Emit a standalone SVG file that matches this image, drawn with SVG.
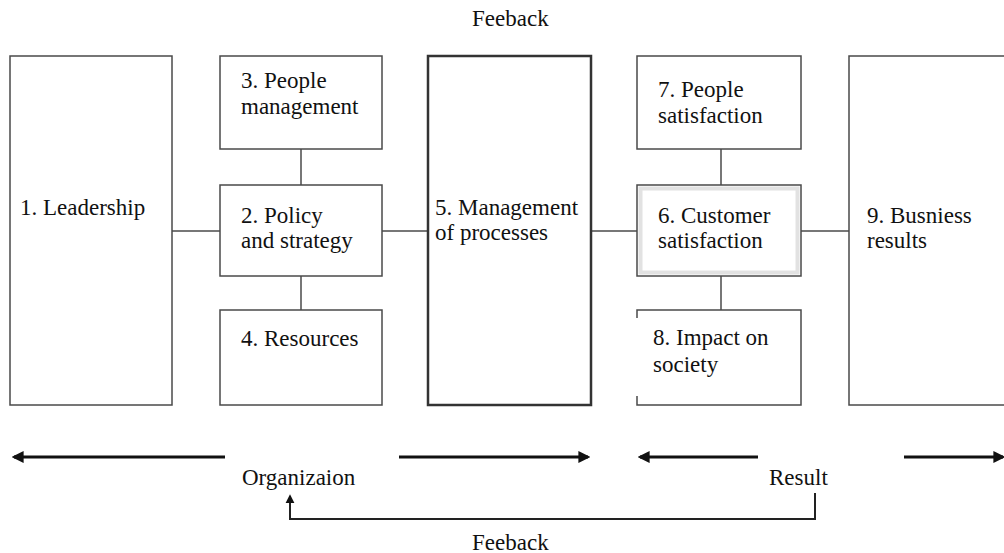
<svg xmlns="http://www.w3.org/2000/svg" width="1004" height="553" viewBox="0 0 1004 553">
  <style>
    .box { fill: #fff; stroke: #4a4a4a; stroke-width: 1.5; }
    .thick { stroke: #333; stroke-width: 2.5; }
    .edge { fill: none; stroke: #4a4a4a; stroke-width: 1.5; }
    .flow { fill: none; stroke: #111; stroke-width: 3; }
    .fb { fill: none; stroke: #222; stroke-width: 2; }
    .lbl { font-family: 'Liberation Serif', 'Times New Roman', serif; font-size: 23px; fill: #111; }
  </style>
  <defs>
    <marker id="head" viewBox="0 0 10 10" refX="8" refY="5" markerWidth="4" markerHeight="4" orient="auto" markerUnits="strokeWidth">
      <path d="M0,0 L10,5 L0,10 Z" fill="#111"/>
    </marker>
    <marker id="headSmall" viewBox="0 0 10 10" refX="8" refY="5" markerWidth="4.5" markerHeight="5" orient="auto" markerUnits="strokeWidth">
      <path d="M0,0 L10,5 L0,10 Z" fill="#111"/>
    </marker>
  </defs>

  <text class="lbl" x="472" y="26">Feeback</text>

  <!-- links between the boxes -->
  <g id="connectors">
    <line class="edge" x1="172" y1="231" x2="220" y2="231"/>
    <line class="edge" x1="301" y1="149" x2="301" y2="185"/>
    <line class="edge" x1="301" y1="276" x2="301" y2="310"/>
    <line class="edge" x1="382" y1="231" x2="428" y2="231"/>
    <line class="edge" x1="591" y1="231" x2="637" y2="231"/>
    <line class="edge" x1="721" y1="149" x2="721" y2="185"/>
    <line class="edge" x1="721" y1="276" x2="721" y2="310"/>
    <line class="edge" x1="801" y1="231" x2="849" y2="231"/>

    <!-- organisation / result spans -->
    <line class="flow" x1="225" y1="457" x2="14" y2="457" marker-end="url(#head)"/>
    <line class="flow" x1="399" y1="457" x2="588" y2="457" marker-end="url(#head)"/>
    <line class="flow" x1="758" y1="457" x2="640" y2="457" marker-end="url(#head)"/>
    <line class="flow" x1="904" y1="457" x2="1003" y2="457" marker-end="url(#head)"/>

    <!-- feedback loop from results back to organisation -->
    <path class="fb" d="M815,493 V519 H290 V496" marker-end="url(#headSmall)"/>
  </g>

  <g id="n1">
    <rect class="box" x="10" y="56" width="162" height="349"/>
    <text class="lbl" x="20" y="215">1. Leadership</text>
  </g>
  <g id="n3">
    <rect class="box" x="220" y="56" width="162" height="93"/>
    <text class="lbl" x="241" y="88">3. People</text>
    <text class="lbl" x="241" y="114">management</text>
  </g>
  <g id="n2">
    <rect class="box" x="220" y="185" width="162" height="91"/>
    <text class="lbl" x="241" y="223">2. Policy</text>
    <text class="lbl" x="241" y="248">and strategy</text>
  </g>
  <g id="n4">
    <rect class="box" x="220" y="310" width="162" height="95"/>
    <text class="lbl" x="241" y="346">4. Resources</text>
  </g>
  <g id="n5">
    <rect class="box thick" x="428" y="56" width="163" height="349"/>
    <text class="lbl" x="435" y="215">5. Management</text>
    <text class="lbl" x="435" y="240">of processes</text>
  </g>
  <g id="n7">
    <rect class="box" x="637" y="56" width="164" height="93"/>
    <text class="lbl" x="658" y="97">7. People</text>
    <text class="lbl" x="658" y="123">satisfaction</text>
  </g>
  <g id="n6">
    <rect class="box" x="637" y="185" width="164" height="91"/>
    <rect x="640.5" y="188.5" width="157" height="84" fill="none" stroke="#e2e2e2" stroke-width="4"/>
    <text class="lbl" x="658" y="223">6. Customer</text>
    <text class="lbl" x="658" y="248">satisfaction</text>
  </g>
  <g id="n8">
    <rect x="637" y="310" width="164" height="95" fill="#fff"/>
    <path class="edge" d="M637,318 V310 H801 V405 H637 V396"/>
    <text class="lbl" x="653" y="345">8. Impact on</text>
    <text class="lbl" x="653" y="372">society</text>
  </g>
  <g id="n9">
    <rect class="box" x="849" y="56" width="170" height="349"/>
    <text class="lbl" x="867" y="223">9. Busniess</text>
    <text class="lbl" x="867" y="248">results</text>
  </g>

  <text class="lbl" x="242" y="485">Organizaion</text>
  <text class="lbl" x="769" y="485">Result</text>
  <text class="lbl" x="472" y="550">Feeback</text>
</svg>
